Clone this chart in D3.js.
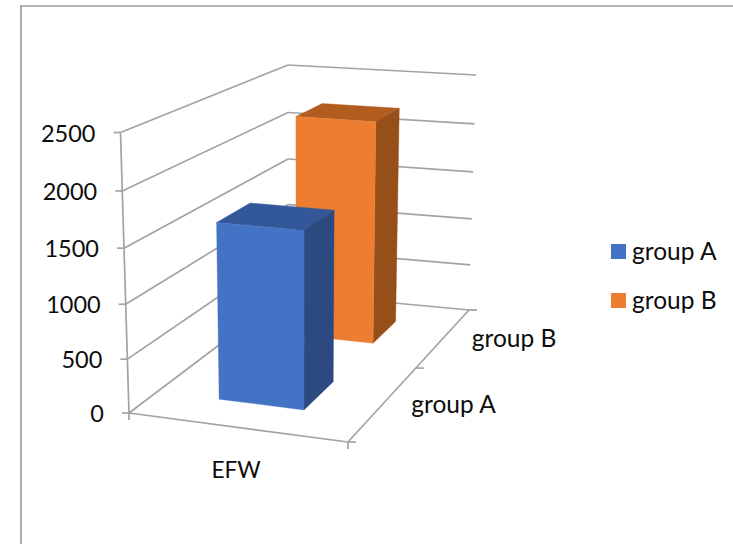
<!DOCTYPE html>
<html>
<head>
<meta charset="utf-8">
<script src="https://cdn.jsdelivr.net/npm/d3@7"></script>
<style>
html, body { margin: 0; padding: 0; background: #fff; }
svg { display: block; }
text { font-family: Lato, "Open Sans", sans-serif; font-size: 24.5px; fill: #0d0d0d; }
text.value { font-size: 23.5px; }
text.category { font-size: 22.6px; }
</style>
</head>
<body>
<svg id="chart" width="733" height="544"></svg>
<script>
// Chart values
const categories = ["EFW"];
const seriesNames = ["group A", "group B"];
const groupA = [1640];
const groupB = [2232];
const valueTicks = [0, 500, 1000, 1500, 2000, 2500];
const seriesColors = ["#4472C4", "#ED7D31"];
const topColors = ["#33589A", "#B25D20"];
const sideColors = ["#2C4A80", "#964F19"];

// Corners of the 3D plot box as seen on the page
const box = {
  floor: { fl: [129, 413], fr: [348, 442], br: [469, 310], bl: [288, 293] },
  ceil:  { fl: [120.5, 132.5], fr: [350.5, 150], br: [476, 75], bl: [288, 65] }
};
const topWeight = 0.95;   // perspective weight of the ceiling against the floor

const svg = d3.select("#chart");
const lineGray = "#A3A3A3";

const valueFrac = d3.scaleLinear().domain([0, 2500]).range([0, 1]);
// Footprint of the column along the width and depth of the box
const widthSpan = d3.scaleOrdinal().domain(categories).range([[0.29, 0.69]]);
const depthSpan = d3.scaleOrdinal().domain(seriesNames).range([[0.18, 0.40], [0.70, 0.87]]);
const depthMid = d3.scaleOrdinal().domain(seriesNames).range([0.25, 0.75]);

function onPlane(plane, u, d) {
  const L = d3.interpolateArray(plane.fl, plane.bl)(d);
  const R = d3.interpolateArray(plane.fr, plane.br)(d);
  return d3.interpolateArray(L, R)(u);
}

// Maps width fraction, depth fraction and a value to page coordinates
function project(u, d, value) {
  const t = valueFrac(value);
  const f = t * topWeight / ((1 - t) + t * topWeight);
  return d3.interpolateArray(onPlane(box.floor, u, d), onPlane(box.ceil, u, d))(f);
}

const linePath = d3.line();
function seg(a, b, width = 1.7) {
  svg.append("path").attr("d", linePath([a, b]))
    .attr("fill", "none").attr("stroke", lineGray).attr("stroke-width", width);
}
const offset = (p, dx, dy) => [p[0] + dx, p[1] + dy];

// Outer frame of the chart area
svg.append("path").attr("d", linePath([[21, 544], [21, 6], [733, 6]]))
  .attr("fill", "none").attr("stroke", "#9A9A9A").attr("stroke-width", 1.6);

// Gridlines on the side wall and the back wall
valueTicks.forEach(v => {
  seg(project(0, 0, v), project(0, 1, v));
  seg(project(0, 1, v), project(1, 1, v));
});

// Floor edges, value axis and tick marks
seg(project(0, 0, 0), project(1, 0, 0));
seg(project(1, 0, 0), project(1, 1, 0));
seg(project(0, 0, 0), project(0, 0, 2500));
valueTicks.forEach(v => {
  const p = project(0, 0, v);
  seg(p, offset(p, -7, 0));
});
[0, 1].forEach(u => {
  const p = project(u, 0, 0);
  seg(p, offset(p, 0, 7));
});
[0, 0.56, 1].forEach(d => {
  const p = project(1, d, 0);
  seg(p, offset(p, 8, 0));
});

// Columns, back row first so the nearer one overlaps it
function drawColumn(category, name, value, i) {
  const [u0, u1] = widthSpan(category);
  const [d0, d1] = depthSpan(name);
  const quad = pts => d3.line()(pts) + "Z";
  const face = (pts, color) => svg.append("path").attr("d", quad(pts))
    .attr("fill", color).attr("stroke", color).attr("stroke-width", 0.4);
  face([project(u0, d0, value), project(u1, d0, value), project(u1, d1, value), project(u0, d1, value)], topColors[i]);
  face([project(u1, d0, value), project(u1, d1, value), project(u1, d1, 0), project(u1, d0, 0)], sideColors[i]);
  face([project(u0, d0, value), project(u1, d0, value), project(u1, d0, 0), project(u0, d0, 0)], seriesColors[i]);
}
drawColumn(categories[0], seriesNames[1], groupB[0], 1);
drawColumn(categories[0], seriesNames[0], groupA[0], 0);

// Value labels
valueTicks.forEach(v => {
  const p = project(0, 0, v);
  svg.append("text").attr("class", "value").attr("x", p[0] - 25).attr("y", p[1] + 9)
    .attr("text-anchor", "end").text(d3.format("d")(v));
});

// Category and series labels on the floor edges
svg.append("text").attr("class", "category").attr("x", 236).attr("y", 478)
  .attr("text-anchor", "middle").text(categories[0]);
seriesNames.forEach(name => {
  const p = project(1, depthMid(name), 0);
  svg.append("text").attr("x", p[0] + 33).attr("y", p[1] + 4).text(name);
});

// Legend
const legendY = d3.scalePoint().domain(seriesNames).range([244, 293]);
seriesNames.forEach((name, i) => {
  svg.append("rect").attr("x", 611).attr("y", legendY(name))
    .attr("width", 15).attr("height", 15).attr("fill", seriesColors[i]);
  svg.append("text").attr("x", 632).attr("y", legendY(name) + 16).text(name);
});
</script>
</body>
</html>
